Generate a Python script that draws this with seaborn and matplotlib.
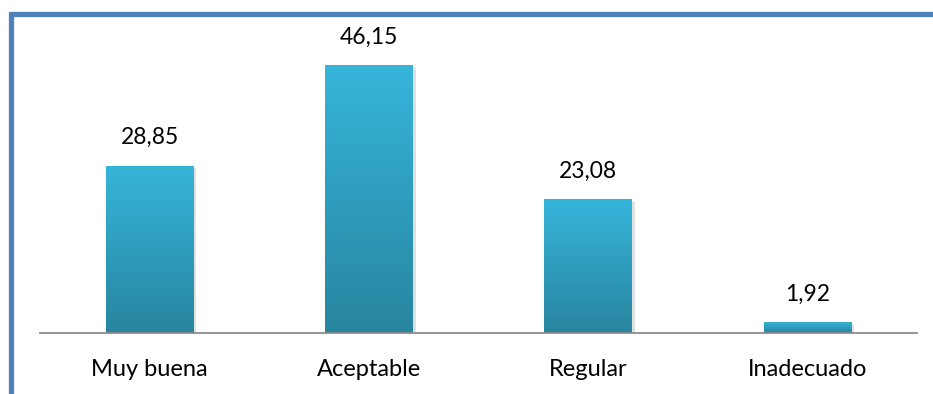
import numpy as np
import pandas as pd
import matplotlib
matplotlib.use("Agg")
import matplotlib.pyplot as plt
import matplotlib.patheffects as pe
from matplotlib.lines import Line2D
from matplotlib.colors import LinearSegmentedColormap
import seaborn as sns

categorias = ["Muy buena", "Aceptable", "Regular", "Inadecuado"]
porcentajes = [28.85, 46.15, 23.08, 1.92]
etiquetas = ["28,85", "46,15", "23,08", "1,92"]

sns.set_theme(style="white")
plt.rcParams["font.family"] = ["Lato", "DejaVu Sans"]

W, H = 933, 394
fig = plt.figure(figsize=(W / 100, H / 100), dpi=100)
ax = fig.add_axes([40 / W, (H - 333) / H, 877 / W, 290 / H])

df = pd.DataFrame({"categoria": categorias, "valor": porcentajes})
sns.barplot(data=df, x="categoria", y="valor", color="#33b0d4", width=0.40,
            ax=ax, saturation=1, edgecolor="none")

ax.set_xlim(-0.5, 3.5)
ax.set_ylim(0, 50)
ax.set_xlabel("")
ax.set_ylabel("")
ax.set_yticks([])
for s in ["top", "right", "left"]:
    ax.spines[s].set_visible(False)
ax.spines["bottom"].set_color("#8c8c8c")
ax.spines["bottom"].set_linewidth(1.3)
ax.spines["bottom"].set_zorder(5)
ax.tick_params(axis="x", length=0, pad=19, labelsize=17, colors="#000000")

# vertical gradient fill inside each bar, with a soft shadow
grad = LinearSegmentedColormap.from_list("g", ["#2885a0", "#36b5da"])
gimg = np.linspace(0, 1, 256).reshape(-1, 1)
for bar, lab in zip(ax.patches, etiquetas):
    x0, w, h = bar.get_x(), bar.get_width(), bar.get_height()
    bar.set_path_effects([pe.SimplePatchShadow(offset=(2, -2), shadow_rgbFace="#999999", alpha=0.3),
                          pe.Normal()])
    im = ax.imshow(gimg, cmap=grad, origin="lower", aspect="auto",
                   extent=(x0, x0 + w, 0, h), zorder=bar.get_zorder() + 0.1)
    im.set_clip_path(bar)
    ax.text(x0 + w / 2, h + 4.8, lab, ha="center", va="center",
            fontsize=16.5, color="#000000")

# blue frame along top and left edges
fig.add_artist(Line2D([9 / W, 1], [1 - 13.5 / H, 1 - 13.5 / H], color="#4f81bd",
                      lw=3.8, solid_capstyle="butt", transform=fig.transFigure))
fig.add_artist(Line2D([11 / W, 11 / W], [1 - 11.5 / H, 0], color="#4f81bd",
                      lw=3.8, solid_capstyle="butt", transform=fig.transFigure))

fig.savefig("out.png", dpi=100)
